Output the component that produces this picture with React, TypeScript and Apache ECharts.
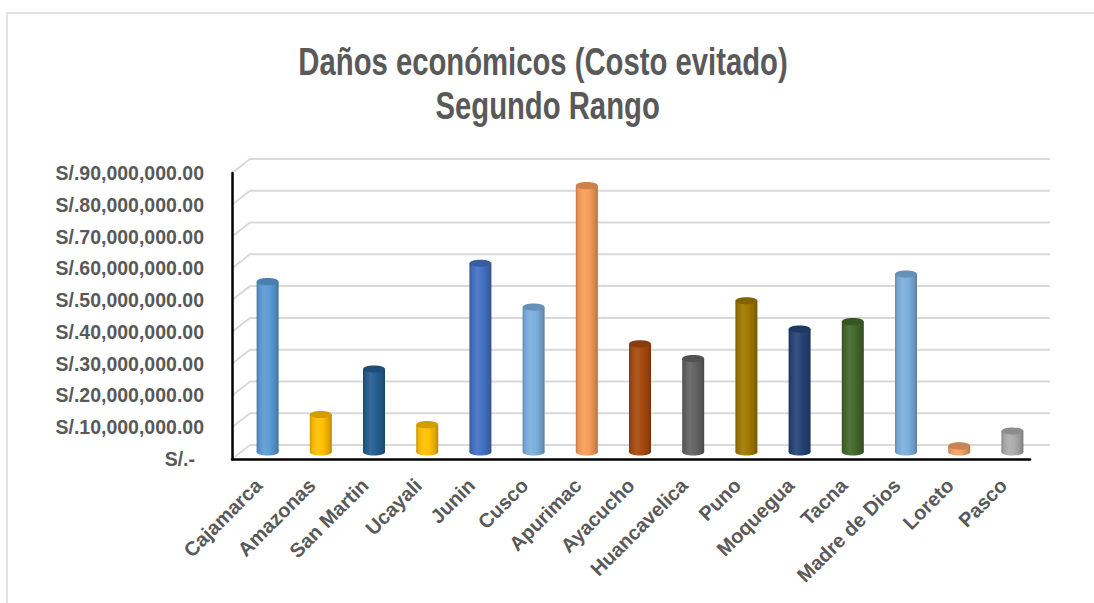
import React, { useEffect, useRef } from "react";
import * as echarts from "echarts";

const CATEGORIES = [
  "Cajamarca", "Amazonas", "San Martin", "Ucayali", "Junin", "Cusco", "Apurimac",
  "Ayacucho", "Huancavelica", "Puno", "Moquegua", "Tacna", "Madre de Dios", "Loreto", "Pasco",
];
const VALUES = [
  53600000, 11800000, 26100000, 8600000, 59400000, 45600000, 83800000,
  34000000, 29400000, 47600000, 38700000, 41000000, 56000000, 1900000, 6600000,
];
const COLORS = [
  "#5B9BD5", "#FFC000", "#255E91", "#FFC000", "#4472C4", "#7CAFDD", "#F89D58",
  "#A84A10", "#636363", "#A07800", "#264478", "#43682B", "#7CAFDD", "#F4A164", "#ACACAC",
];
const Y_TICKS = [0, 10000000, 20000000, 30000000, 40000000, 50000000, 60000000, 70000000, 80000000, 90000000];
const Y_TICK_LABELS = [
  "S/.-", "S/.10,000,000.00", "S/.20,000,000.00", "S/.30,000,000.00", "S/.40,000,000.00",
  "S/.50,000,000.00", "S/.60,000,000.00", "S/.70,000,000.00", "S/.80,000,000.00", "S/.90,000,000.00",
];
const TITLE_LINES = ["Daños económicos (Costo evitado)", "Segundo Rango"];

const FONT = '"Liberation Sans", Arial, sans-serif';
const TEXT_COLOR = "#595959";
const DEPTH_DX = 18;
const DEPTH_DY = -14;

function hexToRgb(h: string) {
  const n = parseInt(h.slice(1), 16);
  return [(n >> 16) & 255, (n >> 8) & 255, n & 255];
}
function mix(h: string, target: number, t: number) {
  const [r, g, b] = hexToRgb(h);
  const f = (c: number) => Math.round(c + (target - c) * t);
  return `rgb(${f(r)},${f(g)},${f(b)})`;
}

export default function App() {
  const ref = useRef<HTMLDivElement>(null);
  useEffect(() => {
    if (!ref.current) return;
    const chart = echarts.init(ref.current, null, { renderer: "svg" });
    const titleFont = `bold 38px ${FONT}`;
    const option: any = {
      animation: false,
      backgroundColor: "#ffffff",
      graphic: [
        {
          type: "rect",
          z: -10,
          silent: true,
          shape: { x: 7, y: 13, width: 1200, height: 700 },
          style: { fill: "none", stroke: "#d9d9d9", lineWidth: 1.5 },
        },
        {
          type: "group",
          x: 543,
          y: 0,
          scaleX: 0.77,
          scaleY: 1,
          silent: true,
          children: [
            {
              type: "text",
              x: 0,
              y: 62,
              style: {
                text: TITLE_LINES[0],
                font: titleFont,
                fill: TEXT_COLOR,
                textAlign: "center",
                textVerticalAlign: "middle",
              },
            },
            {
              type: "text",
              x: 6,
              y: 106,
              style: {
                text: TITLE_LINES[1],
                font: titleFont,
                fill: TEXT_COLOR,
                textAlign: "center",
                textVerticalAlign: "middle",
              },
            },
          ],
        },
      ],
      grid: { left: 232, top: 173, right: 64, bottom: 144, containLabel: false },
      xAxis: {
        type: "category",
        data: CATEGORIES,
        axisLine: { show: true, lineStyle: { color: "#000", width: 2.5 } },
        axisTick: { show: false },
        splitLine: { show: false },
        axisLabel: {
          rotate: 45,
          interval: 0,
          margin: 23,
          color: TEXT_COLOR,
          fontFamily: FONT,
          fontWeight: "bold",
          fontSize: 20,
        },
        z: 5,
      },
      yAxis: {
        type: "value",
        min: 0,
        max: 90000000,
        interval: 10000000,
        axisLine: { show: true, lineStyle: { color: "#000", width: 2.5 } },
        axisTick: { show: false },
        splitLine: { show: false },
        axisLabel: {
          margin: 28,
          color: TEXT_COLOR,
          fontFamily: FONT,
          fontWeight: "bold",
          fontSize: 19.5,
          formatter: (v: number) => {
            const i = Y_TICKS.indexOf(v);
            const s = i >= 0 ? Y_TICK_LABELS[i] : String(v);
            return v === 0 ? `{z|${s}}` : s;
          },
          rich: {
            z: {
              padding: [0, 9, 0, 0],
              color: TEXT_COLOR,
              fontFamily: FONT,
              fontWeight: "bold",
              fontSize: 19.5,
            },
          },
        },
        z: 5,
      },
      series: [
        {
          type: "custom",
          name: "grid",
          silent: true,
          z: 1,
          data: Y_TICKS.map((v) => [0, v]),
          encode: { x: 0, y: 1 },
          renderItem: (params: any, api: any) => {
            const cs = params.coordSys;
            const y = api.coord([0, api.value(1)])[1];
            return {
              type: "polyline",
              shape: {
                points: [
                  [cs.x, y],
                  [cs.x + DEPTH_DX, y + DEPTH_DY],
                  [cs.x + cs.width + DEPTH_DX + 2, y + DEPTH_DY],
                ],
              },
              style: { stroke: "#d9d9d9", lineWidth: 2, fill: "none" },
            };
          },
        },
        {
          type: "custom",
          name: "Costo evitado",
          z: 3,
          data: VALUES.map((v, i) => [i, v]),
          encode: { x: 0, y: 1 },
          renderItem: (params: any, api: any) => {
            const idx = api.value(0);
            const v = api.value(1);
            const base = api.coord([idx, 0]);
            const top = api.coord([idx, v]);
            const cx = base[0] + DEPTH_DX / 2;
            const y0 = base[1] + DEPTH_DY / 2;
            const y1 = top[1] + DEPTH_DY / 2;
            const rx = 11;
            const ry = 3.6;
            const c = COLORS[idx];
            const grad = {
              type: "linear",
              x: 0,
              y: 0,
              x2: 1,
              y2: 0,
              colorStops: [
                { offset: 0, color: mix(c, 0, 0.22) },
                { offset: 0.12, color: mix(c, 0, 0.05) },
                { offset: 0.35, color: mix(c, 255, 0.08) },
                { offset: 0.6, color: c },
                { offset: 0.88, color: mix(c, 0, 0.15) },
                { offset: 1, color: mix(c, 0, 0.3) },
              ],
            };
            return {
              type: "group",
              children: [
                { type: "ellipse", shape: { cx, cy: y0, rx, ry }, style: { fill: grad } },
                {
                  type: "rect",
                  shape: { x: cx - rx, y: y1, width: 2 * rx, height: Math.max(0, y0 - y1) },
                  style: { fill: grad },
                },
                { type: "ellipse", shape: { cx, cy: y1, rx, ry }, style: { fill: mix(c, 0, 0.18) } },
              ],
            };
          },
        },
      ],
    };
    chart.setOption(option);
    return () => chart.dispose();
  }, []);
  return (
    <div
      ref={ref}
      style={{ position: "absolute", left: 0, top: 0, width: 1094, height: 603, background: "#fff" }}
    />
  );
}
